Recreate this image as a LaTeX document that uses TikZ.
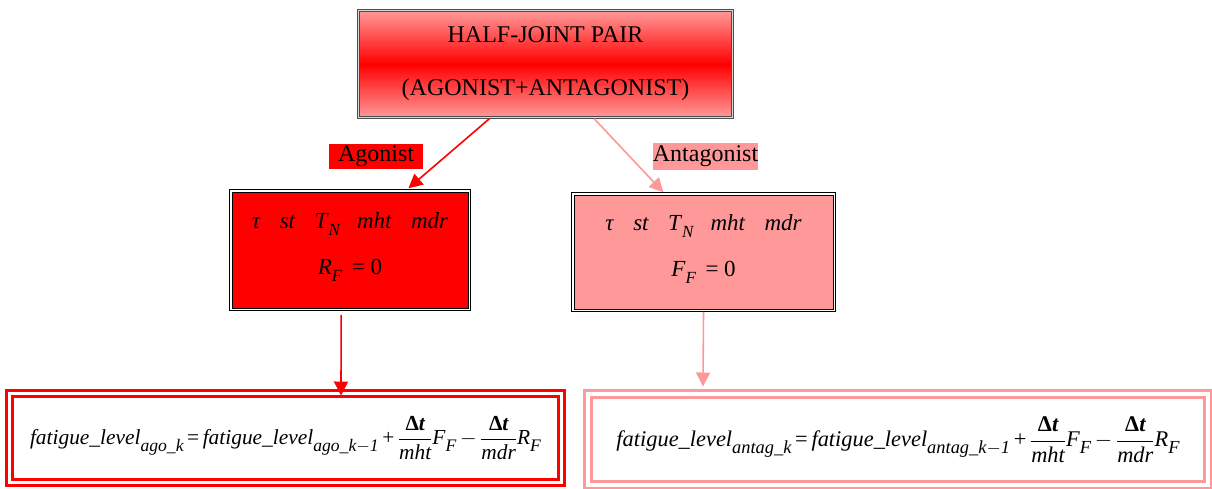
\documentclass[tikz,border=0pt]{standalone}
\usepackage{amsmath}
\usepackage{mathptmx}
\usepackage[no-math]{fontspec}
\setmainfont{Liberation Serif}
\usetikzlibrary{calc,arrows.meta}
\definecolor{rd}{RGB}{255,0,0}
\definecolor{pk}{RGB}{255,153,153}
\pgfdeclareverticalshading{hjshade}{100bp}{color(0bp)=(pk); color(25bp)=(pk); color(50bp)=(rd); color(75bp)=(pk); color(100bp)=(pk)}
\newcommand{\fl}{\textit{fatigue\_level}}
\newcommand{\dt}{\text{\bfseries\symbol{"0394}\itshape t}}
\newcommand{\lowsub}[2]{\raisebox{-7pt}{\fontsize{#1}{#1}\selectfont\itshape #2}}
\newcommand{\vars}{\textit{τ}\hspace{19pt}\textit{st}\hspace{19pt}\textit{T}\lowsub{17}{N}\hspace{17pt}\textit{mht}\hspace{19pt}\textit{mdr}}
\begin{document}
\begin{tikzpicture}[x=1pt,y=-1pt,
  headbox/.style={draw=black!70, double=black!15, line width=1pt, double distance=1.2pt,
    minimum width=373.5pt, minimum height=106.5pt, inner sep=0pt,
    shading=hjshade, align=center,
    font=\fontsize{24}{53}\selectfont},
  midbox/.style={draw=black, double=white, line width=1pt, double distance=1.5pt,
    inner sep=0pt, align=center, font=\fontsize{23}{46}\selectfont},
  lab/.style={inner sep=0pt, font=\fontsize{24}{25}\selectfont, text=black},
  eqbox/.style={draw=#1, double=white, line width=3pt, double distance=3.5pt,
    fill=white, inner sep=0pt},
  conn/.style={draw=#1, line width=1.6pt, -{Triangle[length=14pt,width=14pt]}},
]
\clip (0,0) rectangle (1212,488);
\fill[white] (0,0) rectangle (1212,488);

% top box
\node[headbox] (top) at (545.5,64) {HALF-JOINT PAIR\\(AGONIST+ANTAGONIST)};

% middle boxes
\node[midbox, fill=rd, minimum width=238.5pt, minimum height=118.5pt] (midL) at (350,250)
  {\vars\\\textit{R}\lowsub{17}{F}\ \,=\ 0\\[-34pt]\mbox{}};
\node[midbox, fill=pk, minimum width=261.5pt, minimum height=116.5pt] (midR) at (703.5,252)
  {\vars\\\textit{F}\lowsub{17}{F}\ \,=\ 0\\[-34pt]\mbox{}};

% labels
\node[lab, fill=rd, minimum width=94pt, minimum height=25pt] (labL) at (376,156.5) {Agonist};
\node[lab, fill=pk, minimum width=103pt, minimum height=27pt] (labR) at (705.5,156.5) {Antagonist};

% bottom boxes
\node[eqbox=rd, minimum width=552pt, minimum height=89pt, font=\fontsize{21.4}{25}\selectfont] (botL) at (285.5,438)
  {\fl\lowsub{17.6}{ago\_k}\,=\,\fl\lowsub{17.6}{ago\_k$-$1}\,+\,$\dfrac{\dt}{\textit{mht}}$\textit{F}\lowsub{17.6}{F}\,$-$\,$\dfrac{\dt}{\textit{mdr}}$\textit{R}\lowsub{17.6}{F}};
\node[eqbox=pk, minimum width=620pt, minimum height=91pt, font=\fontsize{22.4}{25}\selectfont] (botR) at (898,439.5)
  {\fl\lowsub{18.4}{antag\_k}\,=\,\fl\lowsub{18.4}{antag\_k$-$1}\,+\,$\dfrac{\dt}{\textit{mht}}$\textit{F}\lowsub{18.4}{F}\,$-$\,$\dfrac{\dt}{\textit{mdr}}$\textit{R}\lowsub{18.4}{F}};

% connectors
\draw[conn=rd] ($(top.south west)!0.35!(top.south east)+(0,1)$) -- ($(midL.north west)!0.744!(midL.north east)+(0,-2)$);
\draw[conn=pk] ($(top.south west)!0.63!(top.south east)+(0,1)$) -- ($(midR.north west)!0.347!(midR.north east)+(0,-1)$);
\draw[conn=rd] ($(midL.south west)!0.463!(midL.south east)+(0,5)$) -- ($(botL.north west)!0.6!(botL.north east)+(0,3.5)$);
\draw[conn=pk] ($(midR.south west)!0.5!(midR.south east)+(0,1)$) -- ($(botR.north west)!0.187!(botR.north east)+(0,-6)$);
\end{tikzpicture}
\end{document}
